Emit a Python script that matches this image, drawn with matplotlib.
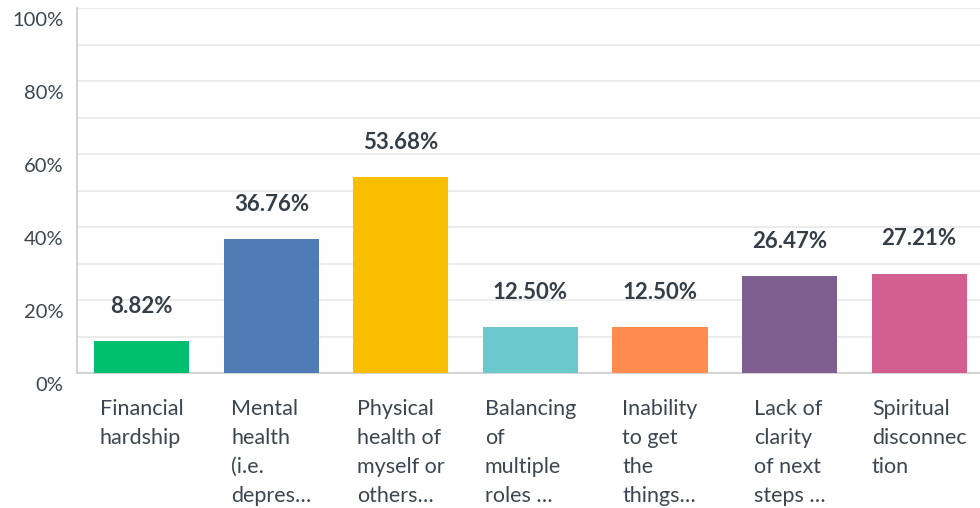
import matplotlib
matplotlib.use("Agg")
import matplotlib.pyplot as plt
import matplotlib.transforms as mtransforms
from matplotlib.ticker import MultipleLocator, FuncFormatter


categories = [
    "Financial\nhardship",
    "Mental\nhealth\n(i.e.\ndepres\u2026",
    "Physical\nhealth of\nmyself or\nothers\u2026",
    "Balancing\nof\nmultiple\nroles \u2026",
    "Inability\nto get\nthe\nthings\u2026",
    "Lack of\nclarity\nof next\nsteps \u2026",
    "Spiritual\ndisconnec\ntion",
]
values = [8.82, 36.76, 53.68, 12.50, 12.50, 26.47, 27.21]
colors = ["#00BF6F", "#507CB6", "#F9BE00", "#6BC8CD", "#FF8B4F", "#7F5F90", "#D25F90"]

TEXT = "#333E48"
plt.rcParams["font.family"] = ["Lato", "DejaVu Sans"]

fig = plt.figure(figsize=(9.8, 5.08), dpi=100)
ax = fig.add_axes([0.0786, 0.2657, 0.9214, 0.7185])

xs = range(len(values))
ax.bar(xs, values, width=0.734, color=colors, zorder=3)

for x, v in zip(xs, values):
    ax.annotate(f"{v:.2f}%", (x, v), xytext=(0, 25), textcoords="offset points",
                ha="center", va="center", fontsize=16, fontweight="bold", color=TEXT)

ax.set_xlim(-0.5, 6.47)
ax.set_ylim(0, 100)
ax.yaxis.set_major_locator(MultipleLocator(20))
ax.yaxis.set_minor_locator(MultipleLocator(10))
ax.yaxis.set_major_formatter(FuncFormatter(lambda v, p: f"{v:.0f}%"))
ax.grid(axis="y", which="both", color="#EBEBEB", linewidth=1.3, zorder=0)

ax.set_xticks(list(xs))
ax.set_xticklabels(categories, fontsize=15.5, color="#3B4650", va="top",
                   ha="center", multialignment="left", linespacing=1.55)
ax.tick_params(axis="x", length=0, pad=19)
ax.tick_params(axis="y", which="both", length=0, pad=10, labelsize=14.5, labelcolor="#3B4650")

shift = mtransforms.ScaledTranslation(0, -0.11, fig.dpi_scale_trans)
for lab in ax.get_yticklabels():
    lab.set_transform(lab.get_transform() + shift)

for side in ["top", "right"]:
    ax.spines[side].set_visible(False)
ax.spines["left"].set_color("#D0D0D0")
ax.spines["left"].set_linewidth(1.3)
ax.spines["bottom"].set_color("#D0D0D0")
ax.spines["bottom"].set_linewidth(1.3)

fig.savefig("out.png", dpi=100)
